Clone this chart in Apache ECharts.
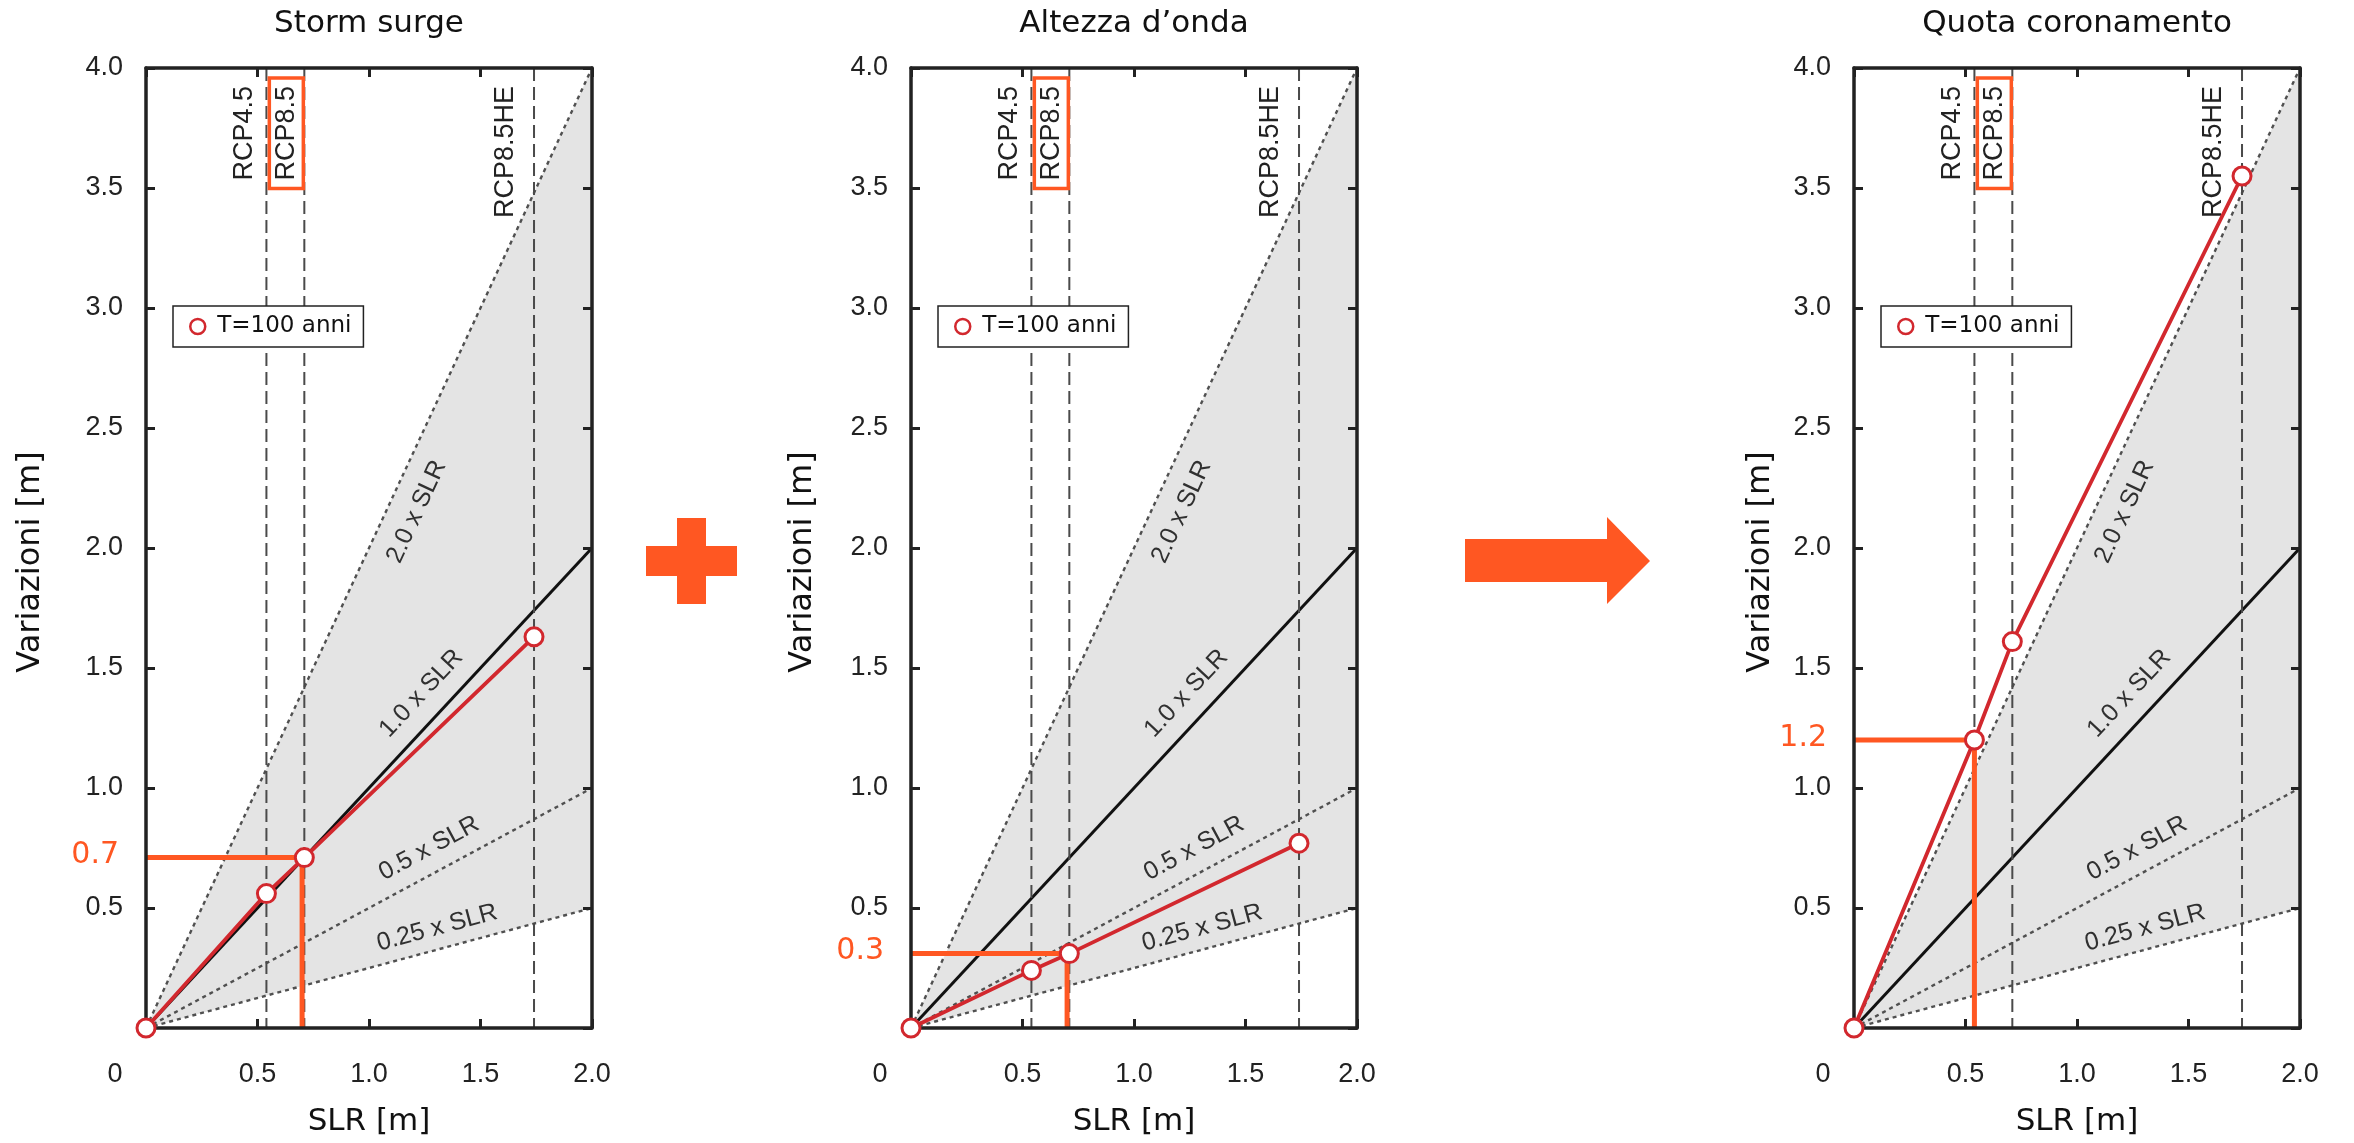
<!DOCTYPE html>
<html>
<head>
<meta charset="utf-8">
<script src="https://cdn.jsdelivr.net/npm/echarts@6/dist/echarts.min.js"></script>
<style>
html,body{margin:0;padding:0;background:#fff;}
#chart{width:2354px;height:1143px;}
</style>
</head>
<body>
<div id="chart"></div>
<script>
// ---------------- DATA ----------------
const panelTitles = ['Storm surge', 'Altezza d\u2019onda', 'Quota coronamento'];
const slrX = [0, 0.54, 0.71, 1.74];                 // SLR of the T=100 points
const stormSurge = [0, 0.56, 0.71, 1.63];
const altezzaOnda = [0, 0.24, 0.31, 0.77];
const quotaCoronamento = [0, 1.20, 1.61, 3.55];
const panelValues = [stormSurge, altezzaOnda, quotaCoronamento];
const legendName = 'T=100 anni';

const scenarioNames = ['RCP4.5', 'RCP8.5', 'RCP8.5HE'];
const scenarioSLR = [0.54, 0.71, 1.74];
const boxedScenario = 'RCP8.5';

const slopeFactors = [2.0, 1.0, 0.5, 0.25];
const slopeLabels = ['2.0 x SLR', '1.0 x SLR', '0.5 x SLR', '0.25 x SLR'];

const highlightSLR = [0.70, 0.70, 0.54];
const highlightValue = [0.71, 0.31, 1.20];
const highlightText = ['0.7', '0.3', '1.2'];

const xName = 'SLR [m]';
const yName = 'Variazioni [m]';
const xMin = 0, xMax = 2.0, xStep = 0.5;
const yMin = 0, yMax = 4.0, yStep = 0.5;

// ---------------- STYLE / LAYOUT ----------------
const RED = '#d2282e';
const ORANGE = '#ff5722';
const AXIS = '#222';
const gridLeft = [146, 911, 1854];
const gridTop = 68, gridW = 446, gridH = 960;
const yNameGap = [99, 92, 77];
const scenarioShift = [-22, -18, -28];
const slopeLabelLayout = [[1.10, 28], [1.32, -26], [1.32, -24], [1.33, -21]]; // [x along line, perpendicular px]
const TICK_FONT = '"Liberation Sans", Arial, sans-serif';
const VERD = '"DejaVu Sans", Verdana, sans-serif';

const measureCtx = document.createElement('canvas').getContext('2d');
function textWidth(t, font) { measureCtx.font = font; return measureCtx.measureText(t).width; }

const chart = echarts.init(document.getElementById('chart'));

const grids = [], xAxes = [], yAxes = [], series = [], legends = [], graphics = [];

for (let i = 0; i < 3; i++) {
  grids.push({left: gridLeft[i], top: gridTop, width: gridW, height: gridH, containLabel: false});
  const tickCommon = {show: true, inside: true, length: 9, lineStyle: {color: AXIS, width: 3}};
  const lineCommon = {show: true, onZero: false, lineStyle: {color: AXIS, width: 3.5}};
  // bottom x
  xAxes.push({
    gridIndex: i, type: 'value', position: 'bottom', min: xMin, max: xMax, interval: xStep, z: 10,
    axisLine: lineCommon, axisTick: tickCommon, splitLine: {show: false},
    axisLabel: {
      margin: 33, fontFamily: TICK_FONT, fontSize: 27, color: AXIS, showMinLabel: true, showMaxLabel: true,
      formatter: v => v === 0 ? '{z|0}' : v.toFixed(1),
      rich: {z: {padding: [0, 62, 0, 0], fontFamily: TICK_FONT, fontSize: 27, color: AXIS}}
    },
    name: xName, nameLocation: 'middle', nameGap: 78,
    nameTextStyle: {fontFamily: VERD, fontSize: 31, color: '#111'}
  });
  // top x (frame)
  xAxes.push({
    gridIndex: i, type: 'value', position: 'top', min: xMin, max: xMax, interval: xStep, z: 10,
    axisLine: lineCommon, axisTick: tickCommon, splitLine: {show: false}, axisLabel: {show: false}
  });
  // left y
  yAxes.push({
    gridIndex: i, type: 'value', position: 'left', min: yMin, max: yMax, interval: yStep, z: 10,
    axisLine: lineCommon, axisTick: tickCommon, splitLine: {show: false},
    axisLabel: {margin: 23, fontFamily: TICK_FONT, fontSize: 27, color: AXIS, showMaxLabel: true,
      formatter: v => v === 0 ? '' : v.toFixed(1)},
    name: yName, nameLocation: 'middle', nameGap: yNameGap[i],
    nameTextStyle: {fontFamily: VERD, fontSize: 32, color: '#111', padding: [0, 28, 0, 0]}
  });
  // right y (frame)
  yAxes.push({
    gridIndex: i, type: 'value', position: 'right', min: yMin, max: yMax, interval: yStep, z: 10,
    axisLine: lineCommon, axisTick: tickCommon, splitLine: {show: false}, axisLabel: {show: false}
  });

  const xi = i * 2, yi = i * 2;

  // gray envelope between max and min slope
  const kMax = Math.max(...slopeFactors), kMin = Math.min(...slopeFactors);
  series.push({
    type: 'custom', xAxisIndex: xi, yAxisIndex: yi, z: 1, silent: true,
    data: [[xMin, 0], [xMax, xMax * kMax], [xMax, xMax * kMin]],
    renderItem: (params, api) => {
      if (params.dataIndex !== 0) return null;
      const pts = [[xMin, 0], [xMax, xMax * kMax], [xMax, xMax * kMin]].map(p => api.coord(p));
      return {type: 'polygon', shape: {points: pts}, style: {fill: '#e4e4e4', stroke: 'none'}};
    }
  });

  // slope reference lines
  slopeFactors.forEach((k, j) => {
    const solid = k === 1.0;
    series.push({
      type: 'line', xAxisIndex: xi, yAxisIndex: yi, z: solid ? 4 : 3, silent: true,
      showSymbol: false, symbol: 'none',
      data: [[xMin, 0], [xMax, xMax * k]],
      lineStyle: solid ? {color: '#111', width: 3} : {color: '#505050', width: 2.4, type: [4, 4]}
    });
  });

  // slope labels
  series.push({
    type: 'custom', xAxisIndex: xi, yAxisIndex: yi, z: 5, silent: true,
    data: slopeFactors.map((k, j) => [k, j]),
    renderItem: (params, api) => {
      const k = api.value(0), j = api.value(1);
      const p0 = api.coord([0, 0]), p1 = api.coord([xMax, xMax * k]);
      let dx = p1[0] - p0[0], dy = p1[1] - p0[1];
      const len = Math.hypot(dx, dy); dx /= len; dy /= len;
      const xa = slopeLabelLayout[j][0], off = slopeLabelLayout[j][1];
      const p = api.coord([xa, k * xa]);
      return {
        type: 'text', x: p[0] - dy * off, y: p[1] + dx * off, rotation: Math.atan2(-dy, dx),
        style: {text: slopeLabels[j], font: '25px ' + TICK_FONT, fill: '#303030', align: 'center', verticalAlign: 'middle'}
      };
    }
  });

  // scenario vertical dashed lines + labels
  series.push({
    type: 'custom', xAxisIndex: xi, yAxisIndex: yi, z: 6, silent: true,
    data: scenarioSLR.map((x, j) => [x, j]),
    renderItem: (params, api) => {
      const x = api.value(0), j = api.value(1);
      const top = api.coord([x, yMax]), bot = api.coord([x, yMin]);
      const font = '27px ' + TICK_FONT;
      const tx = top[0] + scenarioShift[j], ty = top[1] + 18;
      const children = [
        {type: 'line', shape: {x1: top[0], y1: top[1], x2: bot[0], y2: bot[1]},
          style: {stroke: '#4a4a4a', lineWidth: 2, lineDash: [13, 6]}},
        {type: 'text', x: tx, y: ty, rotation: Math.PI / 2,
          style: {text: scenarioNames[j], font: font, fill: '#222', align: 'right', verticalAlign: 'middle'}}
      ];
      if (scenarioNames[j] === boxedScenario) {
        const L = textWidth(scenarioNames[j], font);
        children.push({type: 'rect', shape: {x: tx - 17, y: ty - 8, width: 34, height: L + 16},
          style: {fill: 'none', stroke: ORANGE, lineWidth: 3.5}});
      }
      return {type: 'group', children: children};
    }
  });

  // orange highlight
  series.push({
    type: 'custom', xAxisIndex: xi, yAxisIndex: yi, z: 8, silent: true,
    data: [[highlightSLR[i], highlightValue[i]]],
    renderItem: (params, api) => {
      const x = api.value(0), y = api.value(1);
      const p = api.coord([x, y]), pl = api.coord([xMin, y]), pb = api.coord([x, yMin]);
      return {type: 'group', children: [
        {type: 'polyline', shape: {points: [pl, p, pb]},
          style: {stroke: ORANGE, lineWidth: 5, fill: 'none', lineJoin: 'miter', lineCap: 'butt'}},
        {type: 'text', x: pl[0] - 27, y: p[1] - 2,
          style: {text: highlightText[i], font: '30px ' + VERD, fill: ORANGE, align: 'right', verticalAlign: 'middle'}}
      ]};
    }
  });

  // red data series
  series.push({
    name: legendName, type: 'line', xAxisIndex: xi, yAxisIndex: yi, z: 12, clip: false,
    data: slrX.map((x, j) => [x, panelValues[i][j]]),
    symbol: 'circle', symbolSize: 18, showSymbol: true,
    lineStyle: {color: RED, width: 3.8},
    itemStyle: {color: '#fff', borderColor: RED, borderWidth: 3}
  });

  legends.push({
    left: gridLeft[i] + 27, top: 306, orient: 'horizontal', selectedMode: false, z: 20,
    data: [{name: legendName, icon: 'circle', itemStyle: {color: '#fff', borderColor: RED, borderWidth: 2.5}}],
    itemWidth: 15, itemHeight: 15,
    borderColor: '#222', borderWidth: 1.5, backgroundColor: '#fff', borderRadius: 0,
    padding: [9, 12, 9, 16],
    textStyle: {fontFamily: VERD, fontSize: 23, color: '#111', padding: [0, 0, 0, 7]}
  });

  graphics.push({
    type: 'text', x: gridLeft[i] + gridW / 2, y: 24,
    style: {text: panelTitles[i], font: '31px ' + VERD, fill: '#111', align: 'center', verticalAlign: 'middle'}
  });
}

// plus sign and arrow between panels
graphics.push({type: 'rect', shape: {x: 646, y: 546, width: 91, height: 30}, style: {fill: ORANGE}});
graphics.push({type: 'rect', shape: {x: 677, y: 518, width: 29, height: 86}, style: {fill: ORANGE}});
graphics.push({type: 'polygon', shape: {points: [[1465, 539], [1607, 539], [1607, 517], [1650, 561], [1607, 604], [1607, 582], [1465, 582]]},
  style: {fill: ORANGE}});

chart.setOption({
  animation: false,
  backgroundColor: '#fff',
  grid: grids, xAxis: xAxes, yAxis: yAxes, series: series, legend: legends,
  graphic: graphics
});
</script>
</body>
</html>
